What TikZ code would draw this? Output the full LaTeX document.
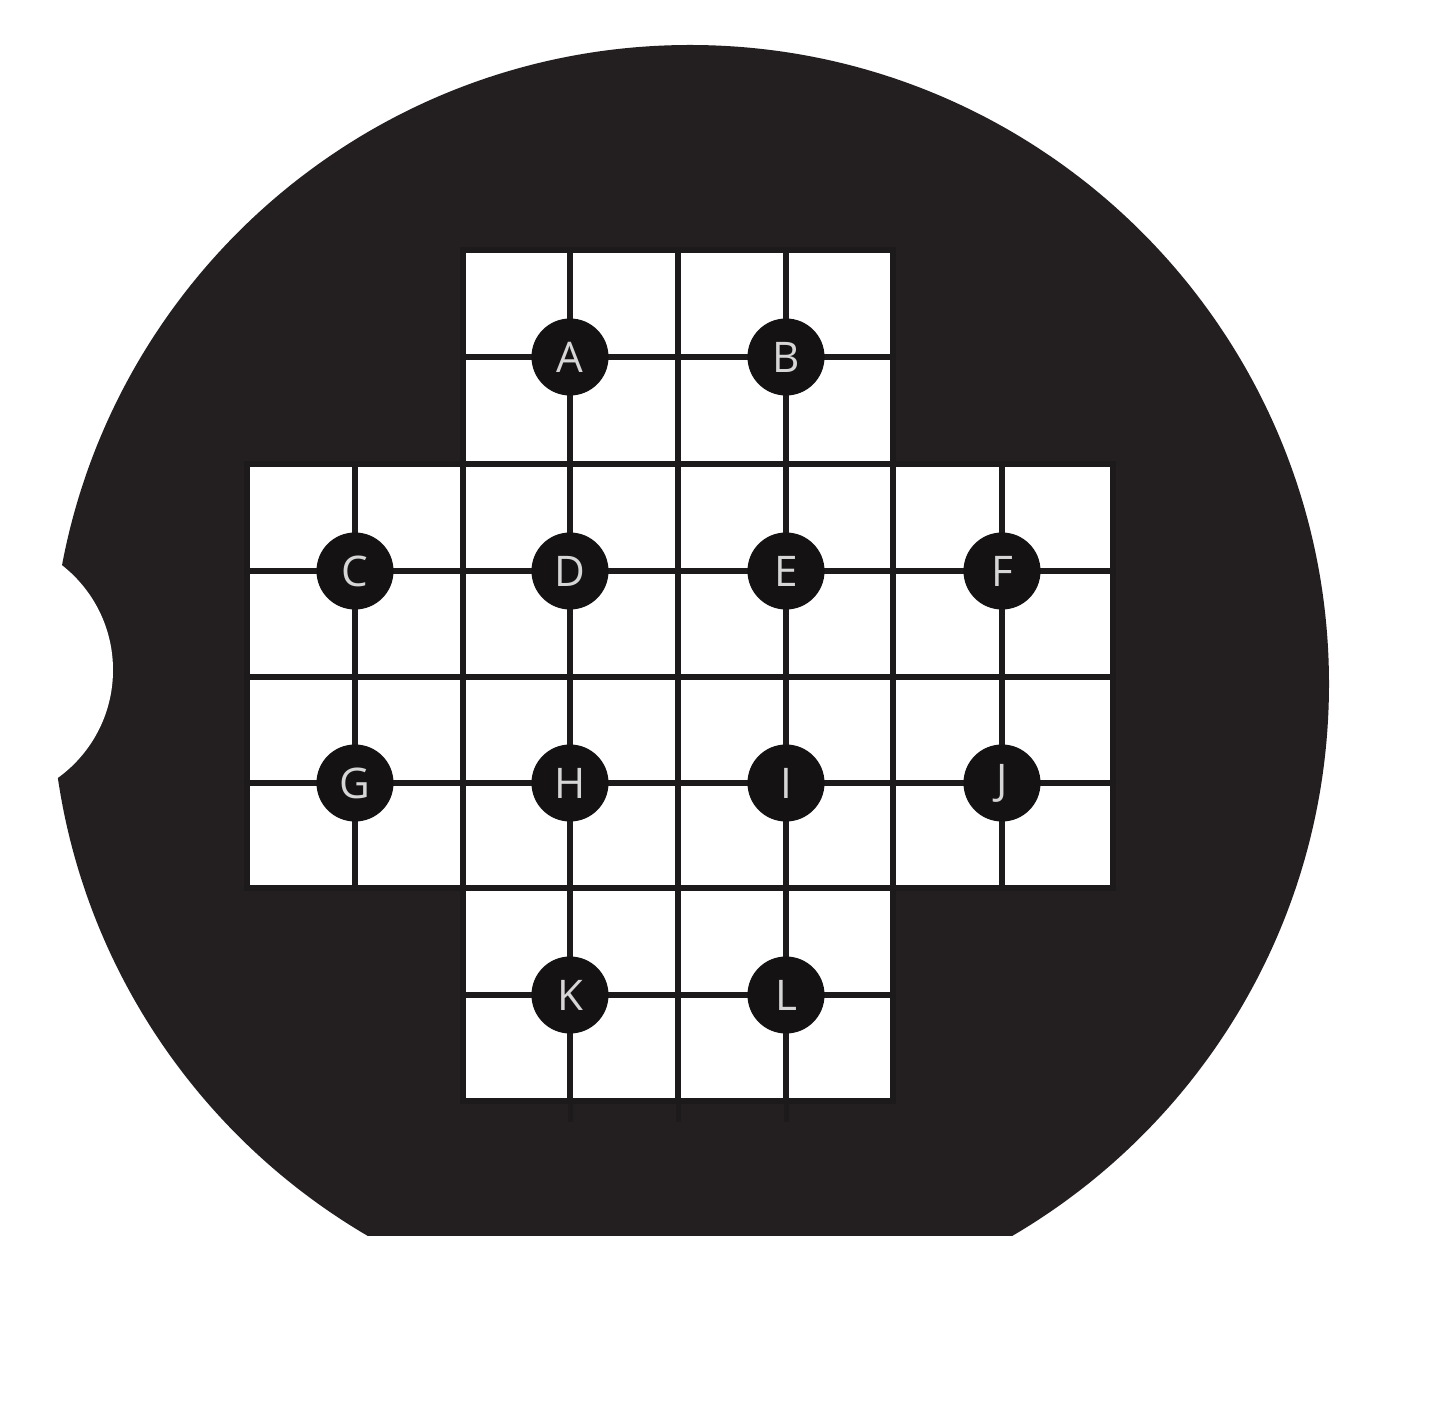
\documentclass[tikz,border=0pt]{standalone}
\usepackage{fontspec}
\setmainfont{Open Sans}
\definecolor{wafer}{HTML}{231F20}
\definecolor{gridline}{HTML}{1D1A1B}
\definecolor{markfill}{HTML}{141213}
\definecolor{labelc}{HTML}{D6D6D6}
\begin{document}
\begin{tikzpicture}[x=0.01cm,y=-0.01cm,
  gl/.style={draw=gridline,line width=0.06cm,line cap=rect},
  stub/.style={draw=gridline,line width=0.05cm},
  marker/.style={circle,fill=markfill,minimum size=0.77cm,inner sep=0pt,
    text=labelc,font=\fontsize{12}{14}\selectfont}]
\useasboundingbox (0,0) rectangle (1445,1428);
\fill[white] (0,0) rectangle (1445,1428);
% wafer disc with flat and notch
\begin{scope}
  \clip (0,0) rectangle (1445,1235);
  \fill[wafer] (690,684) circle[radius=639];
\end{scope}
\fill[white] (-20,670) circle[radius=133];
% white cross of squares
\fill[white] (463,250) rectangle (893,1101);
\fill[white] (247,464) rectangle (1113,888);
% horizontal lines
\foreach \y in {250,357,995,1101} \draw[gl] (463,\y) -- (893,\y);
\foreach \y in {464,571,677,783,888} \draw[gl] (247,\y) -- (1113,\y);
% vertical lines
\foreach \x in {247,355,1002,1113} \draw[gl] (\x,464) -- (\x,888);
\foreach \x in {463,570,678,786,893} \draw[gl] (\x,250) -- (\x,1101);
\foreach \x in {570,678,786} \draw[stub] (\x,1101) -- (\x,1122);
% markers
\node[marker] (A) at (570,357) {A};
\node[marker] (B) at (786,357) {B};
\node[marker] (C) at (355,571) {C};
\node[marker] (D) at (570,571) {D};
\node[marker] (E) at (786,571) {E};
\node[marker] (F) at (1002,571) {F};
\node[marker] (G) at (355,783) {G};
\node[marker] (H) at (570,783) {H};
\node[marker] (I) at (786,783) {I};
\node[marker] (J) at (1002,783) {J};
\node[marker] (K) at (570,995) {K};
\node[marker] (L) at (786,995) {L};
\end{tikzpicture}
\end{document}
